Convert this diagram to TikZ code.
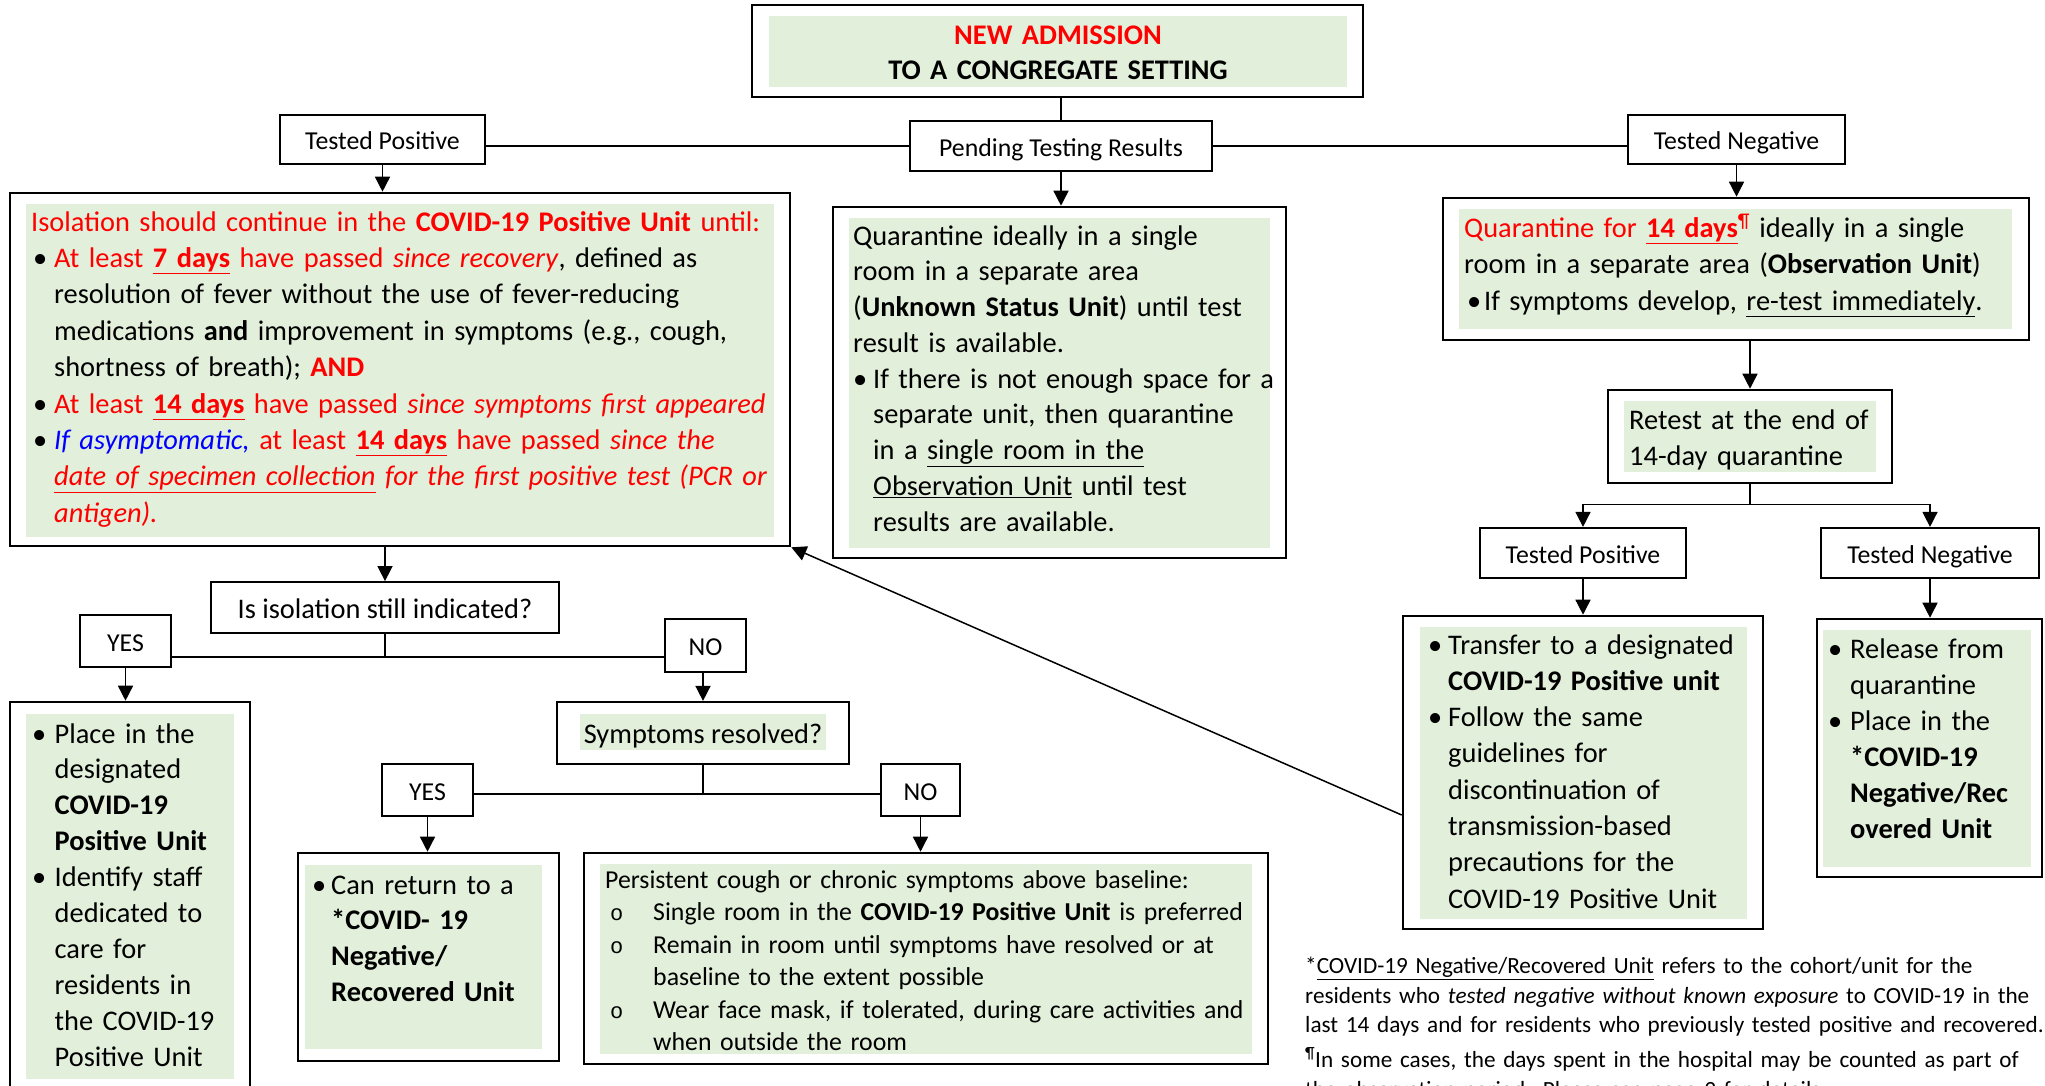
\documentclass[tikz,border=0pt]{standalone}
\usepackage{fontspec}
\setmainfont{Carlito}
\newfontfamily\monof{Liberation Mono}
\usetikzlibrary{arrows.meta}
\definecolor{gfill}{HTML}{E2EFDA}
\definecolor{rd}{HTML}{FF0000}
\definecolor{bl}{HTML}{0000FF}
\newcommand{\myfs}[2]{\fontsize{#1}{#2}\selectfont\lineskiplimit=-100pt\relax}
\newcommand{\rtx}[1]{\textcolor{rd}{#1}}
\newcommand{\btx}[1]{\textcolor{bl}{#1}}
\newcommand{\bulx}[1]{\makebox[#1][l]{\textbullet}}
\newcommand{\indx}[1]{\hspace*{#1}}
\newcommand{\circx}{\hspace*{5pt}\makebox[43pt][l]{\monof\fontsize{22}{22}\selectfont o}}
\begin{document}
\begin{tikzpicture}[x=1pt,y=-1pt,
  box/.style={draw, line width=2.6pt, inner sep=0pt},
  lbl/.style={draw, line width=2.2pt, inner sep=0pt, font=\myfs{25.8}{32}, text height=24pt, text depth=4pt},
  qbox/.style={draw, line width=1.8pt, inner sep=0pt, font=\myfs{28.4}{35}, text height=25pt, text depth=4pt},
  conn/.style={line width=1.5pt},
  arr/.style={line width=1.5pt, -{Triangle[length=15pt,width=15pt]}},
  txt/.style={anchor=base west, inner sep=0pt, align=left, text width=900pt},
  body/.style={font=\myfs{28.4}{#1}},
]
\useasboundingbox (0,0) rectangle (2045,1085);
\clip (0,0) rectangle (2045,1085);
\fill[white] (0,0) rectangle (2045,1085);

% green fills
\fill[gfill] (769,16) rectangle (1347,87);
\fill[gfill] (26,204) rectangle (774,537);
\fill[gfill] (849,218) rectangle (1270,548);
\fill[gfill] (1459,209) rectangle (2012,329);
\fill[gfill] (1624,401) rectangle (1876,472);
\fill[gfill] (1420,627) rectangle (1747,919);
\fill[gfill] (1823,630) rectangle (2031,867);
\fill[gfill] (26,714) rectangle (234,1079);
\fill[gfill] (580,714) rectangle (826,750);
\fill[gfill] (305,865) rectangle (542,1049);
\fill[gfill] (600,864) rectangle (1252,1054);

% boxes
\node[box, minimum width=611pt, minimum height=92pt] (top) at (1057.5,51) {};
\node[lbl, minimum width=302pt, minimum height=50pt] (pend) at (1061,146) {Pending Testing Results};
\node[lbl, minimum width=205pt, minimum height=49pt] (tp) at (382.5,139.5) {Tested Positive};
\node[lbl, minimum width=217pt, minimum height=49pt] (tn) at (1736.5,139.5) {Tested Negative};
\node[box, minimum width=780pt, minimum height=353pt] (iso) at (400,369.5) {};
\node[box, minimum width=453pt, minimum height=351pt] (quar) at (1059.5,382.5) {};
\node[box, minimum width=586pt, minimum height=142pt] (obs) at (1736,269) {};
\node[box, minimum width=284pt, minimum height=93pt] (retest) at (1750,436.5) {};
\node[lbl, minimum width=206pt, minimum height=50pt] (tp2) at (1583,553) {Tested Positive};
\node[lbl, minimum width=218pt, minimum height=50pt] (tn2) at (1930,553) {Tested Negative};
\node[box, minimum width=360pt, minimum height=313pt] (tp2box) at (1583,772.5) {};
\node[box, minimum width=225pt, minimum height=258pt] (tn2box) at (1929.5,748) {};
\node[qbox, minimum width=348pt, minimum height=51pt] (isq) at (385,607.5) {Is isolation still indicated?};
\node[lbl, minimum width=91pt, minimum height=52pt] (yes1) at (125.5,641) {YES};
\node[lbl, minimum width=81pt, minimum height=53pt] (no1) at (705.5,645.5) {NO};
\node[box, minimum width=240pt, minimum height=393pt] (leftbox) at (130,898.5) {};
\node[qbox, line width=2.2pt, minimum width=292pt, minimum height=62pt] (sym) at (703,733) {Symptoms resolved?};
\node[lbl, minimum width=91pt, minimum height=52pt] (yes2) at (427.5,790) {YES};
\node[lbl, minimum width=79pt, minimum height=52pt] (no2) at (920.5,790) {NO};
\node[box, minimum width=261pt, minimum height=208pt] (yes2box) at (428.5,957) {};
\node[box, minimum width=684pt, minimum height=211pt] (no2box) at (926,958.5) {};

% connectors
\draw[conn] (pend.north |- top.south) -- (pend.north);
\draw[conn] (pend.west) -- (pend.west -| tp.east);
\draw[conn] (pend.east) -- (pend.east -| tn.west);
\draw[arr] (tp.south) -- (tp.south |- iso.north);
\draw[arr] (pend.south) -- (pend.south |- quar.north);
\draw[arr] (tn.south) -- (tn.south |- obs.north);
\draw[arr] (retest.north |- obs.south) -- (retest.north);
\draw[conn] (retest.south) -- ++(0,20) coordinate (j1);
\draw[arr] (j1) -| (tp2.north);
\draw[arr] (j1) -| (tn2.north);
\draw[arr] (tp2.south) -- (tp2.south |- tp2box.north);
\draw[arr] (tn2.south) -- (tn2.south |- tn2box.north);
\draw[arr] ([yshift=-42.5pt]tp2box.west) -- (iso.south east);
\draw[arr] (isq.north |- iso.south) -- (isq.north);
\draw[conn] (isq.south) -- ++(0,23) coordinate (j2);
\draw[conn] (yes1.east |- j2) -- (no1.west |- j2);
\draw[arr] (yes1.south) -- (yes1.south |- leftbox.north);
\draw[arr] (sym.north |- no1.south) -- (sym.north);
\draw[conn] (sym.south) -- ++(0,29) coordinate (j3);
\draw[conn] (yes2.east |- j3) -- (no2.west |- j3);
\draw[arr] (yes2.south) -- (yes2.south |- yes2box.north);
\draw[arr] (no2.south) -- (no2.south |- no2box.north);

% texts
\node[anchor=base, inner sep=0pt, align=center, text width=560pt, font=\myfs{28.4}{35}\bfseries] (t-top) at (1058,44.5)
  {\rtx{NEW ADMISSION}\\TO A CONGREGATE SETTING};

\node[txt, body=36.4] (t-iso) at (31,231) {%
\rtx{Isolation should continue in the \textbf{COVID-19 Positive Unit} until:}\\
\hspace*{2pt}\bulx{21pt}\rtx{At least \underline{\textbf{7 days}} have passed \textit{since recovery}}, defined as\\
\indx{23pt}resolution of fever without the use of fever-reducing\\
\indx{23pt}medications \textbf{and} improvement in symptoms (e.g., cough,\\
\indx{23pt}shortness of breath); \rtx{\textbf{AND}}\\
\hspace*{2pt}\bulx{21pt}\rtx{At least \underline{\textbf{14 days}} have passed \textit{since symptoms first appeared}}\\
\hspace*{2pt}\bulx{21pt}\btx{\textit{If asymptomatic,}} \rtx{at least \underline{\textbf{14 days}} have passed \textit{since the}}\\
\indx{23pt}\rtx{\textit{\underline{date of specimen collection} for the first positive test (PCR or}}\\
\indx{23pt}\rtx{\textit{antigen).}}};

\node[txt, body=35.75] (t-quar) at (853,245) {%
Quarantine ideally in a single\\
room in a separate area\\
(\textbf{Unknown Status Unit}) until test\\
result is available.\\
\bulx{20pt}If there is not enough space for a\\
\indx{20pt}separate unit, then quarantine\\
\indx{20pt}in a \underline{single room in the}\\
\indx{20pt}\underline{Observation Unit} until test\\
\indx{20pt}results are available.};

\node[txt, body=36.5] (t-obs) at (1464,237) {%
\rtx{Quarantine for \underline{\textbf{14 days}}\textsuperscript{¶}} ideally in a single\\
room in a separate area (\textbf{Observation Unit})\\
\hspace*{3pt}\bulx{17pt}If symptoms develop, \underline{re-test immediately}.};

\node[txt, body=36] (t-retest) at (1629,429) {Retest at the end of\\14-day quarantine};

\node[txt, body=36.3] (t-tp2) at (1428,654) {%
\bulx{20pt}Transfer to a designated\\
\indx{20pt}\textbf{COVID-19 Positive unit}\\
\bulx{20pt}Follow the same\\
\indx{20pt}guidelines for\\
\indx{20pt}discontinuation of\\
\indx{20pt}transmission-based\\
\indx{20pt}precautions for the\\
\indx{20pt}COVID-19 Positive Unit};

\node[txt, body=35.9] (t-tn2) at (1828,658.5) {%
\bulx{22pt}Release from\\
\indx{22pt}quarantine\\
\bulx{22pt}Place in the\\
\indx{22pt}\textbf{*COVID-19}\\
\indx{22pt}\textbf{Negative/Rec}\\
\indx{22pt}\textbf{overed Unit}};

\node[txt, body=35.9] (t-left) at (32,743) {%
\bulx{22.5pt}Place in the\\
\indx{22.5pt}designated\\
\indx{22.5pt}\textbf{COVID-19}\\
\indx{22.5pt}\textbf{Positive Unit}\\
\bulx{22.5pt}Identify staff\\
\indx{22.5pt}dedicated to\\
\indx{22.5pt}care for\\
\indx{22.5pt}residents in\\
\indx{22.5pt}the COVID-19\\
\indx{22.5pt}Positive Unit};

\node[txt, body=35.8] (t-yes2) at (312,894) {%
\bulx{19pt}Can return to a\\
\indx{19pt}\textbf{*COVID- 19}\\
\indx{19pt}\textbf{Negative/}\\
\indx{19pt}\textbf{Recovered Unit}};

\node[txt, font=\myfs{25.8}{32.5}] (t-no2) at (605,888) {%
Persistent cough or chronic symptoms above baseline:\\
\circx Single room in the \textbf{COVID-19 Positive Unit} is preferred\\
\circx Remain in room until symptoms have resolved or at\\
\indx{48pt}baseline to the extent possible\\
\circx Wear face mask, if tolerated, during care activities and\\
\indx{48pt}when outside the room};

\node[txt, font=\myfs{23.2}{29.5}] (t-fn1) at (1305,973.5) {%
*\underline{COVID-19 Negative/Recovered Unit} refers to the cohort/unit for the\\
residents who \textit{tested negative without known exposure} to COVID-19 in the\\
last 14 days and for residents who previously tested positive and recovered.};
\node[txt, font=\myfs{23.2}{30}] (t-fn2) at (1305,1067.5) {%
\textsuperscript{¶}In some cases, the days spent in the hospital may be counted as part of\\
the observation period. Please see page 3 for details.};
\end{tikzpicture}
\end{document}
